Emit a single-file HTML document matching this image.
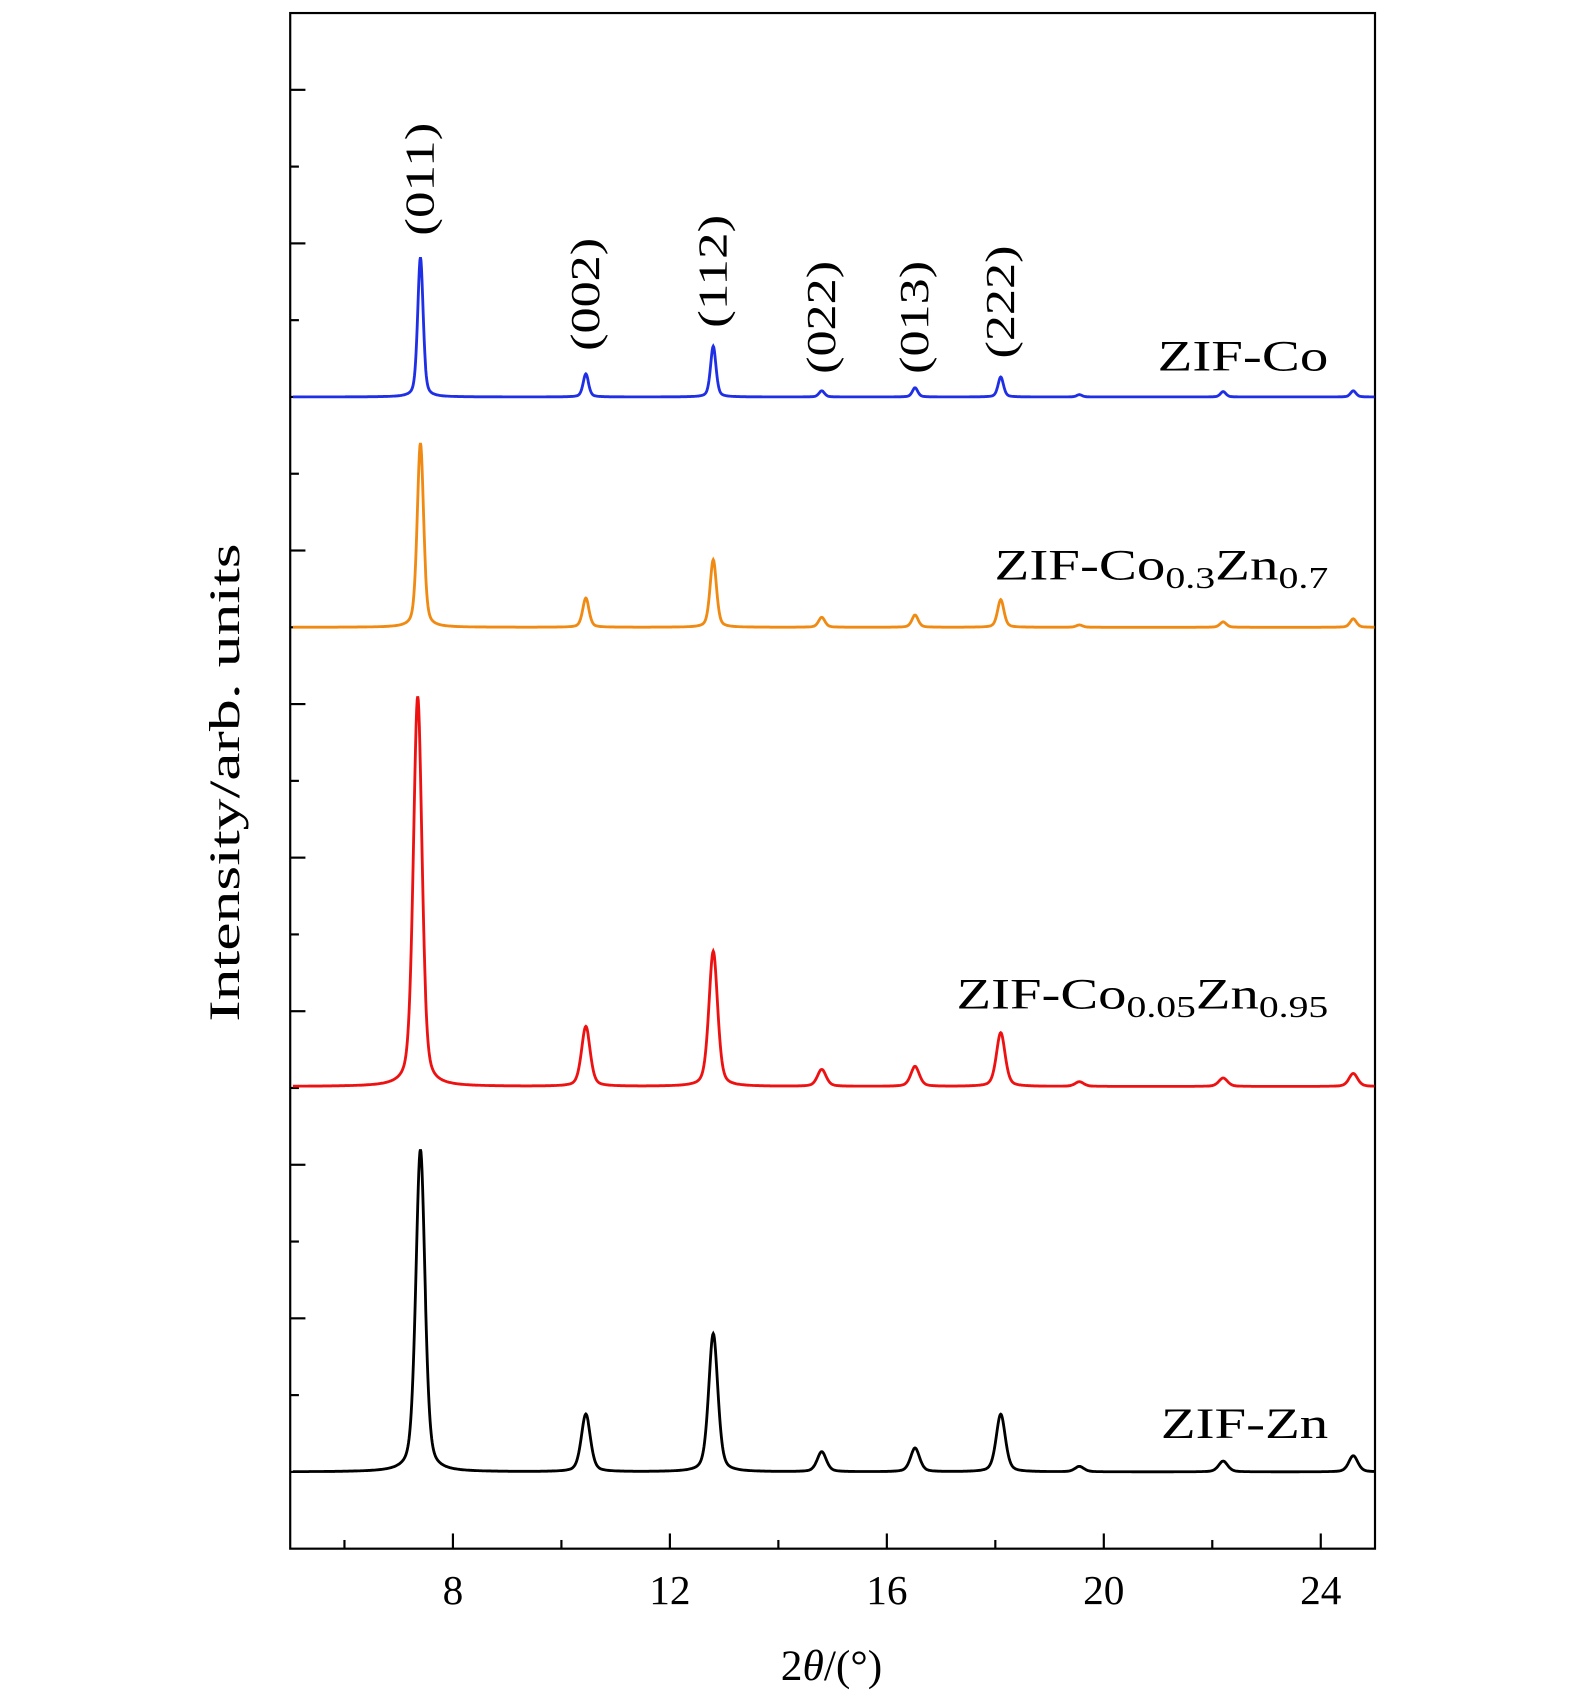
<!DOCTYPE html>
<html><head><meta charset="utf-8"><style>
html,body{margin:0;padding:0;background:#fff;}
svg{display:block;font-family:"Liberation Serif",serif;}
</style></head><body>
<svg id="chart" width="1575" height="1703" viewBox="0 0 1449 1567" preserveAspectRatio="none" xmlns="http://www.w3.org/2000/svg">
<g id="axes"></g>
<g id="series"></g>
<g id="labels"></g>
</svg>
<script>
const xTicks=[8,12,16,20,24];
const peakPos=[7.4,10.45,12.8,14.8,16.52,18.1,19.55,22.2,24.6];
const seriesNames=["ZIF-Co","ZIF-Co0.3Zn0.7","ZIF-Co0.05Zn0.95","ZIF-Zn"];
const seriesColors=["#1f2fe6","#f08a12","#ee1111","#000000"];
const seriesBase=[7.0,5.5,2.51,0];
const hCo=[0.91,0.15,0.33,0.04,0.06,0.13,0.015,0.035,0.04];
const hCo03=[1.20,0.19,0.44,0.065,0.08,0.18,0.015,0.035,0.055];
const hCo005=[2.54,0.39,0.88,0.11,0.13,0.35,0.03,0.055,0.085];
const hZn=[2.10,0.375,0.90,0.13,0.155,0.375,0.035,0.07,0.105];
const seriesHeights=[hCo,hCo03,hCo005,hZn];
const seriesWidth=[0.06,0.07,0.095,0.1];
const hklLabels=["(011)","(002)","(112)","(022)","(013)","(222)"];
const hklTop=[8.05,7.3,7.45,7.15,7.15,7.25];

const L=267,R=1265,T=12,B=1425;
const X=v=>L+(v-5)/20*(R-L);
const Y=v=>B-(v+0.5)/10*(B-T);
const NS="http://www.w3.org/2000/svg";
function mk(tag,attrs,parent){const e=document.createElementNS(NS,tag);for(const k in attrs)e.setAttribute(k,attrs[k]);parent.appendChild(e);return e;}
const axes=document.getElementById('axes'),ser=document.getElementById('series'),lab=document.getElementById('labels');

let fr=mk('rect',{x:L,y:T,width:R-L,height:B-T,fill:'none',stroke:'#000','stroke-width':2},axes);

for(let v=6;v<=24;v+=2){const maj=xTicks.includes(v);let t=mk('line',{x1:X(v),x2:X(v),y1:B,y2:B-(maj?14:8),stroke:'#000','stroke-width':2},axes);
}
xTicks.forEach(v=>{let t=mk('text',{x:X(v),y:1476,'text-anchor':'middle','font-size':38},axes);t.textContent=v;
});
for(let v=0;v<=9;v+=0.5){const maj=Number.isInteger(v);let t=mk('line',{x1:L,x2:L+(maj?14:8),y1:Y(v),y2:Y(v),stroke:'#000','stroke-width':2},axes);
}
let xt=mk('text',{x:765,y:1546,'text-anchor':'middle','font-size':40},axes);
xt.innerHTML='2<tspan font-style="italic">θ</tspan>/(°)';

let yt=mk('text',{x:0,y:0,'text-anchor':'middle','font-size':40,textLength:440,lengthAdjust:'spacingAndGlyphs',transform:'translate(220,720) rotate(-90)'},axes);
yt.textContent='Intensity/arb. units';


seriesNames.forEach((n,i)=>{
  const h=seriesHeights[i],w=seriesWidth[i];let pts=[];
  for(let x=5.05;x<=25;x+=0.01){let y=seriesBase[i];
    h.forEach((hh,k)=>{let p=peakPos[k];if(i==2&&k==0)p=7.35;const d=(x-p)/w;y+=hh*(0.6*Math.exp(-0.693*d*d)+0.4/(1+d*d));});
    pts.push(X(x).toFixed(1)+','+Y(y).toFixed(1));}
  let pl=mk('polyline',{points:pts.join(' '),fill:'none',stroke:seriesColors[i],'stroke-width':2.6},ser);
  
});
const nameY=[341,533,928,1323];
const nameLen=[157,307,342,154];
const nameHTML=['ZIF-Co','ZIF-Co<tspan font-size="28" dy="8">0.3</tspan><tspan dy="-8">Zn</tspan><tspan font-size="28" dy="8">0.7</tspan>',
'ZIF-Co<tspan font-size="28" dy="8">0.05</tspan><tspan dy="-8">Zn</tspan><tspan font-size="28" dy="8">0.95</tspan>','ZIF-Zn'];
nameHTML.forEach((s,i)=>{let t=mk('text',{x:1222-nameLen[i],y:nameY[i],'font-size':40,textLength:nameLen[i],lengthAdjust:'spacingAndGlyphs'},lab);t.innerHTML=s;
});
hklLabels.forEach((s,i)=>{const x=X(peakPos[i])+12,y=Y(hklTop[i]);
  let t=mk('text',{x:0,y:0,'font-size':38,textLength:104,lengthAdjust:'spacingAndGlyphs',transform:`translate(${x},${y}) rotate(-90)`},lab);t.textContent=s;
  });
</script>
</body></html>
